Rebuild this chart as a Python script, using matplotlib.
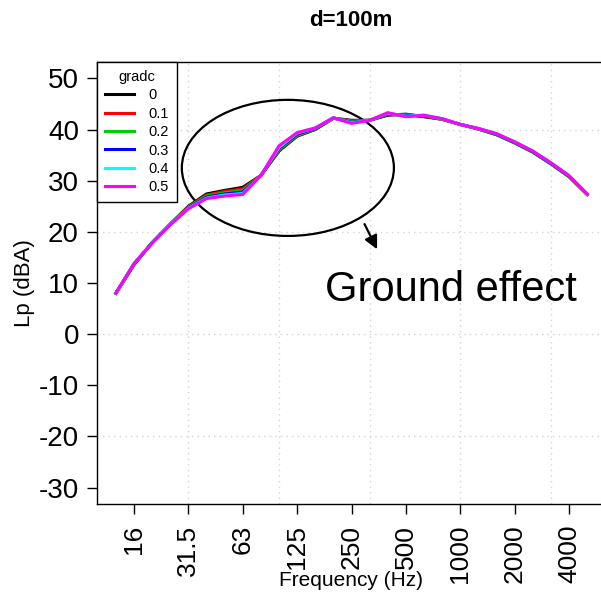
import numpy as np
import matplotlib.pyplot as plt
from matplotlib.patches import Ellipse

plt.rcParams['font.family'] = ['Liberation Sans', 'DejaVu Sans']
plt.rcParams['axes.unicode_minus'] = False

# 1/3 octave bands 12.5 Hz .. 5000 Hz, plotted by band index
band_idx = np.arange(1, 28)
tick_idx = [2, 5, 8, 11, 14, 17, 20, 23, 26]
tick_lab = ['16', '31.5', '63', '125', '250', '500', '1000', '2000', '4000']

gradc = ['0', '0.1', '0.2', '0.3', '0.4', '0.5']
cols = ['black', 'red', '#00CD00', 'blue', 'cyan', 'magenta']

lp_0 = [8.0, 13.6, 17.9, 21.5, 25.0, 27.4, 28.1, 28.7, 31.0, 35.8, 38.7, 40.0, 42.2, 41.8,
        41.8, 42.8, 43.0, 42.5, 42.0, 41.0, 40.1, 39.0, 37.4, 35.6, 33.3, 30.8, 27.3]
lp_01 = [8.0, 13.6, 17.9, 21.5, 24.9, 27.2, 27.9, 28.4, 31.0, 35.9, 38.8, 40.1, 42.2, 41.7,
         41.8, 42.9, 42.9, 42.6, 42.0, 41.0, 40.1, 39.0, 37.4, 35.6, 33.3, 30.8, 27.3]
lp_02 = [8.0, 13.7, 17.9, 21.5, 24.8, 27.0, 27.6, 28.1, 31.0, 36.1, 38.9, 40.1, 42.2, 41.6,
         41.8, 43.0, 42.8, 42.7, 42.0, 41.0, 40.1, 39.0, 37.4, 35.6, 33.3, 30.8, 27.3]
lp_03 = [8.0, 13.7, 17.8, 21.4, 24.7, 26.8, 27.4, 27.8, 31.0, 36.3, 39.1, 40.2, 42.3, 41.4,
         41.8, 43.1, 42.7, 42.7, 42.1, 41.0, 40.2, 39.1, 37.5, 35.7, 33.4, 30.9, 27.4]
lp_04 = [8.0, 13.8, 17.8, 21.4, 24.6, 26.6, 27.2, 27.5, 31.0, 36.5, 39.3, 40.3, 42.3, 41.3,
         41.8, 43.2, 42.6, 42.8, 42.1, 41.0, 40.2, 39.2, 37.6, 35.8, 33.5, 31.0, 27.4]
lp_05 = [8.0, 13.8, 17.8, 21.4, 24.5, 26.5, 27.0, 27.3, 31.0, 36.8, 39.4, 40.3, 42.3, 41.2,
         41.8, 43.3, 42.5, 42.8, 42.1, 41.0, 40.2, 39.2, 37.6, 35.8, 33.5, 31.0, 27.4]
series = [lp_0, lp_01, lp_02, lp_03, lp_04, lp_05]

fig = plt.figure(figsize=(6.01, 5.97), dpi=100)
ax = fig.add_axes([97/601, 93/597, 509/601, 442/597])

# grid first so the lines sit on top
for gx in [5, 10, 15, 20, 25]:
    ax.axvline(gx, color='#d3d3d3', ls=(0, (1, 3)), lw=1, zorder=0)
for gy in [-20, 0, 20, 40]:
    ax.axhline(gy, color='#d3d3d3', ls=(0, (1, 3)), lw=1, zorder=0)

for s, c, g in zip(series, cols, gradc):
    ax.plot(band_idx, s, color=c, lw=2.2, label=g)

ax.set_xlim(-0.04, 28.04)
ax.set_ylim(-33.2, 53.2)
ax.set_xticks(tick_idx)
ax.set_xticklabels(tick_lab, rotation=90, fontsize=19)
ax.set_yticks(np.arange(-30, 51, 10))
ax.tick_params(axis='y', labelsize=20, length=7, width=1, pad=6)
ax.tick_params(axis='x', length=7, width=1, pad=8)
for sp in ax.spines.values():
    sp.set_linewidth(1)

ax.set_ylabel('Lp (dBA)', fontsize=16)
ax.yaxis.set_label_coords(-0.122, 0.5)
fig.text(351/601, 1 - 580/597, 'Frequency (Hz)', fontsize=15, ha='center', va='center')
fig.text(351/601, 1 - 20/597, 'd=100m', fontsize=16, fontweight='bold', ha='center', va='center')

leg = ax.legend(title='gradc', loc='upper left', borderaxespad=0, fontsize=10.5,
                title_fontsize=10.5, fancybox=False, edgecolor='black', framealpha=1,
                handlelength=2.0, labelspacing=0.3, borderpad=0.55, handletextpad=1.0)
leg.get_frame().set_linewidth(1)

# annotation
ax.add_patch(Ellipse((10.49, 32.5), 11.7, 26.6, fill=False, lw=1.6, color='black'))
ax.annotate('', xy=(15.48, 16.1), xytext=(14.65, 22.0),
            arrowprops=dict(arrowstyle='-|>', color='black', lw=1.6, mutation_scale=20))
ax.text(19.49, 8.6, 'Ground effect', fontsize=30, ha='center', va='center')

fig.savefig('out.png', dpi=100)
